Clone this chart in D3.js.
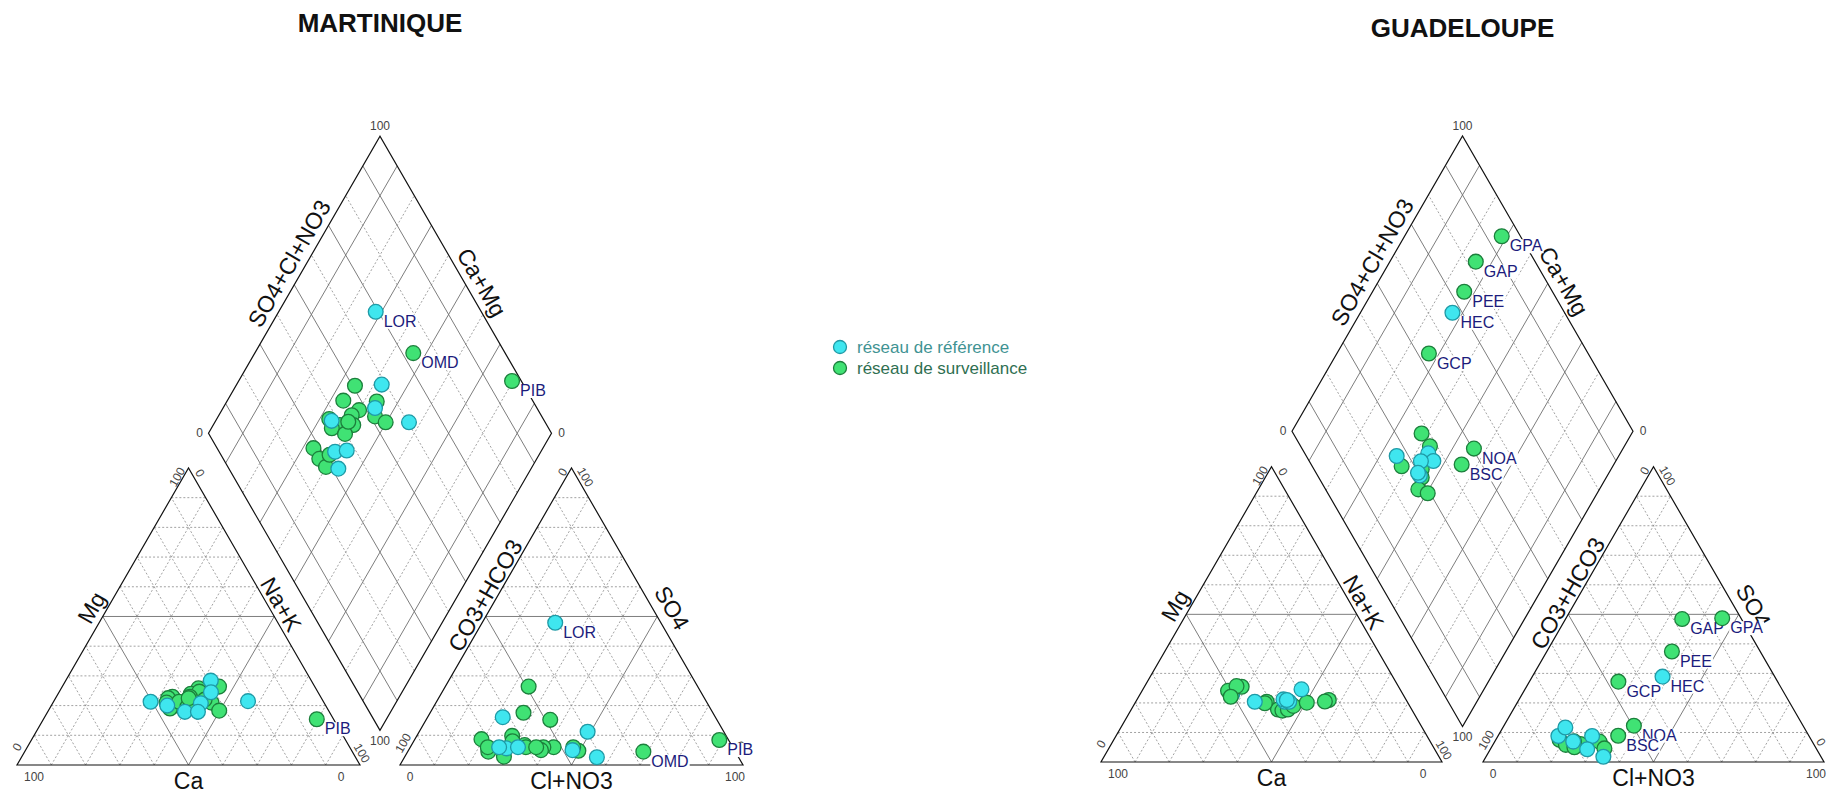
<!DOCTYPE html>
<html><head><meta charset="utf-8">
<script src="https://cdn.jsdelivr.net/npm/d3@7"></script>
<style>
body{margin:0;background:#fff}
svg{display:block}
text{font-family:"Liberation Sans",Arial,Helvetica,sans-serif}
</style>
</head><body>
<svg id="chart" width="1829" height="793"></svg>
<script>
// ---------------- DATA ----------------
// Martinique: cations [Ca, Mg, Na+K] (%), anions [CO3+HCO3, SO4, Cl+NO3] (%)
const mqNetwork = ["surv","surv","surv","surv","surv","surv","surv","surv","surv","surv","surv","surv","surv","surv","surv","surv","surv","surv","surv",
                   "ref","ref","ref","ref","ref","ref","ref","ref"];
const mqLabels  = ["OMD","PIB","","","","","","","","","","","","","","","","","",
                   "LOR","","","","","","",""];
const mqCations = [
  [32.8,21.0,46.2],[4.9,15.4,79.7],[43.3,22.0,34.7],[43.2,23.0,33.8],[34.2,25.8,40.0],[37.3,24.0,38.7],
  [44.7,22.5,32.8],[43.1,20.0,36.9],[34.5,24.7,40.8],[45.9,19.0,35.1],[39.1,21.0,39.9],[27.9,26.4,45.7],
  [34.3,22.0,43.7],[31.9,18.3,49.8],[45.9,21.0,33.1],[42.1,21.3,36.6],[40.5,19.6,39.9],[38.1,23.0,38.9],
  [38.7,22.5,38.8],
  [50.4,21.3,28.3],[29.3,28.4,42.3],[31.2,24.5,44.3],[46.2,20.0,33.8],[21.9,21.5,56.6],[42.1,17.9,40.0],
  [36.0,20.8,43.2],[38.3,17.9,43.8]
];
const mqAnions = [
  [26.8,4.5,68.7],[2.7,8.4,88.9],[49.3,26.4,24.3],[55.2,17.6,27.2],[52.2,6.0,41.8],[55.2,6.0,38.8],
  [62.4,9.8,27.8],[60.3,6.7,33.0],[56.4,5.0,38.6],[63.2,8.0,28.8],[60.3,6.0,33.7],[48.6,15.2,36.2],
  [45.6,4.8,49.6],[46.5,6.0,47.5],[71.9,8.7,19.4],[72.0,4.5,23.5],[71.4,6.0,22.6],[68.3,2.8,28.9],
  [57.3,6.0,36.7],
  [30.8,47.9,21.3],[41.3,2.6,56.1],[47.2,5.0,47.8],[62.0,16.1,21.9],[39.7,11.2,49.1],[66.2,5.6,28.2],
  [62.6,6.0,31.4],[68.1,6.0,25.9]
];
const mqCationLabels = ["PIB"];

// Guadeloupe
const gpNetwork = ["ref","surv","surv","surv","surv","surv","surv","surv","surv","surv","surv","surv","surv","surv",
                   "ref","ref","ref","ref","ref","ref"];
const gpLabels  = ["HEC","GAP","GPA","PEE","GCP","NOA","BSC","","","","","","","",
                   "","","","","",""];
const gpCations = [
  [50.0,23.0,27.0],[50.7,24.1,25.2],[46.0,25.5,28.5],[47.4,25.7,26.9],[50.9,22.1,27.0],[22.7,21.0,56.3],[24.1,20.5,55.4],
  [41.2,20.4,38.4],[39.2,17.8,43.0],[42.0,19.9,38.1],[38.1,17.4,44.5],[36.3,17.8,45.9],[34.1,19.0,46.9],[29.6,20.1,50.3],
  [44.7,20.4,34.9],[35.9,20.4,43.7],[28.9,24.6,46.5],[35.9,21.2,42.9],[34.6,20.4,45.0],[35.0,21.0,44.0]
];
const gpAnions = [
  [32.9,28.9,38.2],[17.4,48.4,34.2],[5.5,48.7,45.8],[25.9,37.4,36.7],[46.7,27.2,26.1],[49.6,12.3,38.1],[55.9,8.9,35.2],
  [62.4,6.9,30.7],[62.1,4.6,33.3],[73.8,7.5,18.7],[68.4,6.1,25.5],[69.8,7.0,23.2],[72.8,5.8,21.4],[70.7,5.0,24.3],
  [73.5,8.8,17.7],[63.8,1.8,34.4],[63.6,8.8,27.6],[67.3,4.3,28.4],[70.0,11.7,18.3],[70.1,6.9,23.0]
];
const gpCationLabels = [];

const gridSteps = [10,20,30,40,50,60,70,80,90];
const legendItems = ["réseau de référence","réseau de surveillance"];

// ---------------- STYLE / LAYOUT ----------------
const colors = {
  ref:  {fill:"#3fe6ef", stroke:"#1f9aa6", text:"#3f9393"},
  surv: {fill:"#40e274", stroke:"#1c7f3c", text:"#2f6f52"}
};
const layouts = [
  {title:"MARTINIQUE", titleY:32, x0:17,   base:765, side:343, gap:40},
  {title:"GUADELOUPE", titleY:37, x0:1101, base:762, side:341, gap:41}
];

const svg = d3.select("#chart");
const SQ3 = Math.sqrt(3);

function drawPiper(L, network, labels, cations, anions, cationLabelNames) {
  const s = L.side, h = s*SQ3/2;
  const along = d3.scaleLinear().domain([0,100]).range([0,s]);
  const up = d3.scaleLinear().domain([0,100]).range([0,h]);
  const cx0 = L.x0, ax0 = L.x0 + s + L.gap, base = L.base;
  const tri = x0 => (right, top) => [x0 + along(right + top/2), base - up(top)];
  const cat = tri(cx0), ani = tri(ax0);
  const B = [cx0 + s + L.gap/2, base - L.gap*SQ3/2];
  const dia = (cm, an) => [B[0] + along(an - cm)/2, B[1] - up(cm + an)];

  const g = svg.append("g");
  const line = d3.line();
  const gridG = g.append("g");

  function seg(p, q, solid) {
    gridG.append("path").attr("d", line([p,q]))
      .attr("fill","none")
      .attr("stroke", solid ? "#6e6e6e" : "#8a8a8a")
      .attr("stroke-width", solid ? 0.9 : 0.8)
      .attr("stroke-dasharray", solid ? null : "2,2");
  }
  [cat, ani].forEach(f => {
    gridSteps.forEach(k => {
      const solid = k === 50;
      seg(f(0,k), f(100-k,k), solid);
      seg(f(k,0), f(k,100-k), solid);
      seg(f(100-k,0), f(0,100-k), solid);
    });
  });
  gridSteps.forEach(k => {
    const solid = (k/10) % 2 === 1;
    seg(dia(k,0), dia(k,100), solid);
    seg(dia(0,k), dia(100,k), solid);
  });
  const outline = pts => g.append("path").attr("d", line(pts) + "Z")
      .attr("fill","none").attr("stroke","#111").attr("stroke-width",1.2).attr("stroke-linejoin","miter");
  outline([cat(0,0), cat(100,0), cat(0,100)]);
  outline([ani(0,0), ani(100,0), ani(0,100)]);
  outline([dia(0,0), dia(100,0), dia(100,100), dia(0,100)]);

  function txt(x, y, t, opt) {
    const el = g.append("text").text(t)
      .attr("text-anchor", opt.anchor || "middle")
      .attr("font-size", opt.size)
      .attr("fill", opt.fill || "#111");
    if (opt.rot !== undefined) {
      el.attr("transform", `translate(${x},${y}) rotate(${opt.rot})`).attr("dy","0.35em");
    } else {
      el.attr("x", x).attr("y", y);
    }
    if (opt.weight) el.attr("font-weight", opt.weight);
    return el;
  }
  const tick = {size:12, fill:"#444"};
  const axis = {size:23, fill:"#111"};
  const offs = (p, n, nd, t, td) => [p[0] + n*nd[0] + t*td[0], p[1] + n*nd[1] + t*td[1]];
  const nLeft = [-SQ3/2, -0.5], tLeftUp = [0.5, -SQ3/2];
  const nRight = [SQ3/2, -0.5], tRightDown = [0.5, SQ3/2];

  const cL = cat(0,0), cR = cat(100,0), cA = cat(0,100);
  txt(cL[0]+17, base+16, "100", tick);
  txt(cR[0]-19, base+16, "0", tick);
  txt(cL[0], base-18, "0", {...tick, rot:-60});
  txt(cA[0]-11.5, cA[1]+9, "100", {...tick, rot:-60});
  txt(cA[0]+11.5, cA[1]+5, "0", {...tick, rot:60});
  txt(cR[0]+2, base-12, "100", {...tick, rot:60});
  txt(cx0 + s/2, base+24, "Ca", axis);
  let p = offs(cat(0,50), 14, nLeft, 2, tLeftUp);
  txt(p[0], p[1], "Mg", {...axis, rot:-60});
  p = offs(cat(50,50), 12, nRight, -7, tRightDown);
  txt(p[0], p[1], "Na+K", {...axis, rot:60});

  const aL = ani(0,0), aR = ani(100,0), aA = ani(0,100);
  txt(aL[0]+10, base+16, "0", tick);
  txt(aR[0]-8, base+16, "100", tick);
  txt(aL[0]+3, base-22, "100", {...tick, rot:-60});
  txt(aA[0]-9, aA[1]+4, "0", {...tick, rot:-60});
  txt(aA[0]+14, aA[1]+9, "100", {...tick, rot:60});
  txt(aR[0]-3, base-20, "0", {...tick, rot:60});
  txt(ax0 + s/2, base+24, "Cl+NO3", axis);
  p = offs(ani(0,50), 11, nLeft, 18, tLeftUp);
  txt(p[0], p[1], "CO3+HCO3", {...axis, rot:-60});
  p = offs(ani(50,50), 17, nRight, 0, tRightDown);
  txt(p[0], p[1], "SO4", {...axis, rot:60});

  const dT = dia(100,100), dL = dia(100,0), dR = dia(0,100);
  txt(dT[0], dT[1]-6, "100", tick);
  txt(dL[0]-9, dL[1]+4, "0", tick);
  txt(dR[0]+10, dR[1]+4, "0", tick);
  txt(B[0], B[1]+15, "100", tick);
  p = offs(dia(100,50), 15, nLeft, 16, tLeftUp);
  txt(p[0], p[1], "SO4+Cl+NO3", {...axis, rot:-60});
  p = offs(dia(50,100), 15, nRight, 6, tRightDown);
  txt(p[0], p[1], "Ca+Mg", {...axis, rot:60});

  txt(dT[0], L.titleY, L.title, {size:26, weight:"bold", fill:"#111"});

  const samples = network.map((net, i) => {
    const [ca, mg, nak] = cations[i];
    const [hco3, so4, cl] = anions[i];
    return {
      net, label: labels[i],
      pc: cat(nak, mg),
      pa: ani(cl, so4),
      pd: dia(ca + mg, so4 + cl)
    };
  });
  const markG = g.append("g");
  samples.forEach(d => {
    if (d.label) {
      const spots = [d.pd, d.pa];
      if (cationLabelNames.includes(d.label)) spots.push(d.pc);
      spots.forEach(q => {
        const lg = markG.append("g");
        const t = lg.append("text").text(d.label)
          .attr("x", q[0] + 8).attr("y", q[1] + 15)
          .attr("font-size", 16).attr("fill", "#1c1c7c");
        const bb = t.node().getBBox();
        lg.insert("rect", "text").attr("x", bb.x - 1).attr("y", bb.y + 2)
          .attr("width", bb.width + 2).attr("height", bb.height - 3).attr("fill", "#fff");
      });
    }
    [d.pc, d.pa, d.pd].forEach(q => {
      markG.append("circle").attr("cx", q[0]).attr("cy", q[1]).attr("r", 7.4)
        .attr("fill", colors[d.net].fill).attr("stroke", colors[d.net].stroke).attr("stroke-width", 1.3);
    });
  });
}

drawPiper(layouts[0], mqNetwork, mqLabels, mqCations, mqAnions, mqCationLabels);
drawPiper(layouts[1], gpNetwork, gpLabels, gpCations, gpAnions, gpCationLabels);

const legend = svg.append("g").attr("transform", "translate(840,347)");
const legendY = d3.scalePoint().domain(legendItems).range([0,21]);
legendItems.forEach((t, i) => {
  const key = i === 0 ? "ref" : "surv";
  legend.append("circle").attr("cx", 0).attr("cy", legendY(t)).attr("r", 6.5)
    .attr("fill", colors[key].fill).attr("stroke", colors[key].stroke).attr("stroke-width", 1.3);
  legend.append("text").attr("x", 17).attr("y", legendY(t) + 6).text(t)
    .attr("font-size", 17).attr("fill", colors[key].text);
});
</script>
</body></html>
